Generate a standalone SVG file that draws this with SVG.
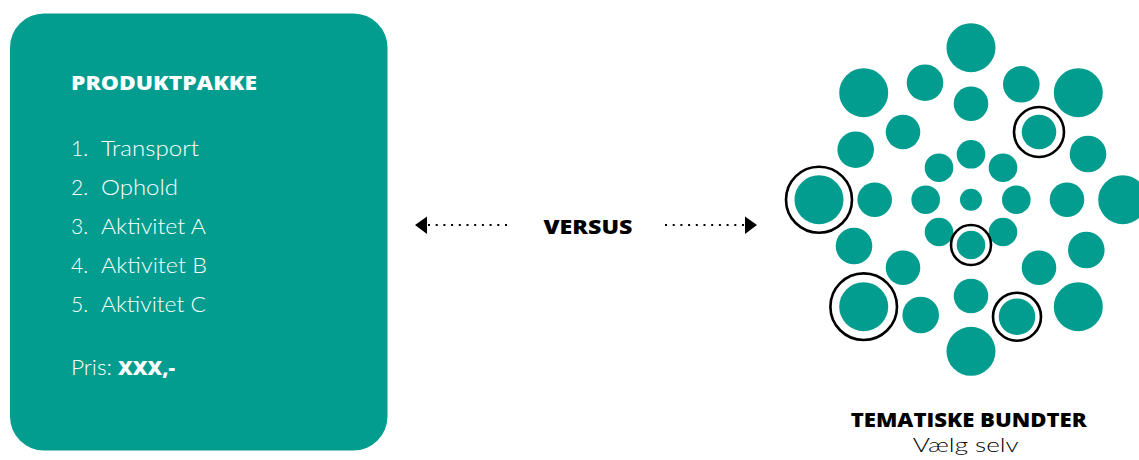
<svg xmlns="http://www.w3.org/2000/svg" width="1139" height="460" viewBox="0 0 1139 460">
<style>
.teal{fill:#029d8f}
.ring{fill:none;stroke:#000;stroke-width:2.6}
.bold{font-family:"Open Sans","Liberation Sans",sans-serif;font-weight:800}
.light{font-family:Lato,"Open Sans","Liberation Sans",sans-serif;font-weight:300}
.w{fill:#fff}
.dots{stroke:#000;stroke-width:2.2;stroke-dasharray:2 5.7;fill:none}
</style>
<rect width="1139" height="460" fill="#fff"/>
<g id="produktpakke">
<rect x="10" y="13.5" width="377.5" height="437" rx="34" class="teal"/>
<text x="71" y="90" class="bold w" font-size="20" textLength="186" lengthAdjust="spacingAndGlyphs">PRODUKTPAKKE</text>
<g class="light w" font-size="21">
<text x="71" y="156">1.</text><text x="101" y="156" textLength="98" lengthAdjust="spacingAndGlyphs">Transport</text>
<text x="71" y="195">2.</text><text x="101" y="195" textLength="77" lengthAdjust="spacingAndGlyphs">Ophold</text>
<text x="71" y="234">3.</text><text x="101" y="234" textLength="105" lengthAdjust="spacingAndGlyphs">Aktivitet A</text>
<text x="71" y="273">4.</text><text x="101" y="273" textLength="106" lengthAdjust="spacingAndGlyphs">Aktivitet B</text>
<text x="71" y="312">5.</text><text x="101" y="312" textLength="105" lengthAdjust="spacingAndGlyphs">Aktivitet C</text>
<text x="71" y="375" textLength="41" lengthAdjust="spacingAndGlyphs">Pris:</text>
</g>
<text x="118" y="375" class="bold w" font-size="20" textLength="57" lengthAdjust="spacingAndGlyphs">XXX,-</text>
</g>
<g id="connectors">
<line x1="428" y1="225" x2="508" y2="225" class="dots"/>
<polygon points="415,225 427,216.5 427,234"/>
<line x1="665" y1="225" x2="745" y2="225" class="dots"/>
<polygon points="757,225 745,216.5 745,234"/>
</g>
<g id="versus">
<text x="543.5" y="234" class="bold" font-size="20" textLength="89" lengthAdjust="spacingAndGlyphs">VERSUS</text>
</g>
<g id="tematiske-bundter">
<g class="teal">
<circle cx="971" cy="47.7" r="24.5"/>
<circle cx="863.7" cy="92.7" r="24.5"/>
<circle cx="925" cy="82.7" r="18.3"/>
<circle cx="971" cy="103.7" r="17.3"/>
<circle cx="1021.3" cy="84.3" r="18.3"/>
<circle cx="1078.3" cy="92.7" r="24.5"/>
<circle cx="903" cy="132" r="17.3"/>
<circle cx="1039" cy="132" r="17.3"/>
<circle cx="855.7" cy="149.7" r="18.3"/>
<circle cx="1088" cy="154" r="18.3"/>
<circle cx="971" cy="154.3" r="14.3"/>
<circle cx="939" cy="167.7" r="14.3"/>
<circle cx="1003" cy="167.7" r="14.3"/>
<circle cx="819" cy="199.7" r="24.5"/>
<circle cx="874.7" cy="199.7" r="17.3"/>
<circle cx="925.7" cy="199.7" r="14.3"/>
<circle cx="971" cy="199.7" r="11"/>
<circle cx="1016.3" cy="199.7" r="14.3"/>
<circle cx="1067" cy="199.7" r="17.3"/>
<circle cx="1122.7" cy="199.7" r="24.5"/>
<circle cx="854" cy="246" r="18.3"/>
<circle cx="939" cy="232" r="14.3"/>
<circle cx="971" cy="245" r="14.3"/>
<circle cx="1003" cy="232" r="14.3"/>
<circle cx="1086.3" cy="250" r="18.3"/>
<circle cx="903" cy="267.7" r="17.3"/>
<circle cx="1039" cy="267.7" r="17.3"/>
<circle cx="863.7" cy="306.7" r="24.5"/>
<circle cx="920.7" cy="315" r="18.3"/>
<circle cx="971" cy="296" r="17.3"/>
<circle cx="1017" cy="316.7" r="18.3"/>
<circle cx="1078.3" cy="306.7" r="24.5"/>
<circle cx="971" cy="351.3" r="24.5"/>
</g>
<circle cx="1039" cy="132" r="25" class="ring"/>
<circle cx="819" cy="199.7" r="33" class="ring"/>
<circle cx="971" cy="245" r="20" class="ring"/>
<circle cx="863.7" cy="306.7" r="33.3" class="ring"/>
<circle cx="1017" cy="316.7" r="24" class="ring"/>
<text x="850.7" y="427" class="bold" font-size="20" textLength="236" lengthAdjust="spacingAndGlyphs">TEMATISKE BUNDTER</text>
<text x="912.7" y="452" class="light" font-size="19" textLength="106" lengthAdjust="spacingAndGlyphs">Vælg selv</text>
</g>
</svg>
